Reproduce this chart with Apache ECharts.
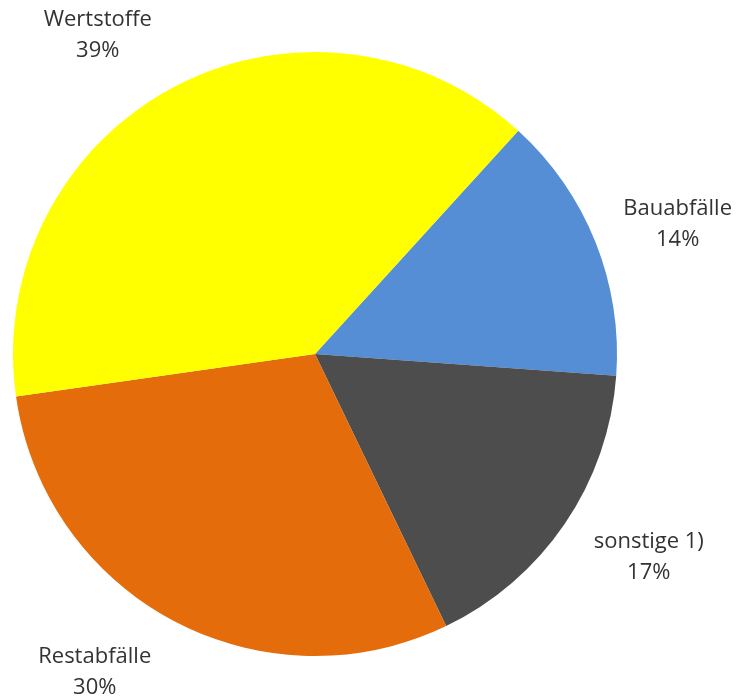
<!DOCTYPE html>
<html>
<head>
<meta charset="utf-8">
<script src="https://cdn.jsdelivr.net/npm/echarts@6/dist/echarts.min.js"></script>
<style>
html,body{margin:0;padding:0;background:#fff;}
#main{width:737px;height:700px;}
</style>
</head>
<body>
<div id="main"></div>
<script>
// Anteile (Reihenfolge im Uhrzeigersinn ab oben rechts)
var kategorien = ['Bauabfälle', 'sonstige 1)', 'Restabfälle', 'Wertstoffe'];
var anteile = [14.4, 16.7, 29.9, 39.0];
var farben = ['#558ED5', '#4D4D4D', '#E46C0A', '#FFFF00'];
// Verschiebung der Beschriftungen (px) wie in der Vorlage
var labelVersatz = [[7, 12], [17, -12], [-40, -20], [-38, 20]];

var myChart = echarts.init(document.getElementById('main'));

var daten = [];
var labelDaten = [];
for (var i = 0; i < kategorien.length; i++) {
	daten.push({name: kategorien[i], value: anteile[i], itemStyle: {color: farben[i]}});
	labelDaten.push({name: kategorien[i], value: anteile[i]});
}

var option = {
	backgroundColor: '#ffffff',
	animation: false,
	series: [
		{
			type: 'pie',
			center: [315, 354],
			radius: [0, 302],
			startAngle: 47.7,
			clockwise: true,
			silent: true,
			label: {show: false},
			labelLine: {show: false},
			data: daten
		},
		{
			// unsichtbarer Ring nur fuer die Beschriftungen
			type: 'pie',
			center: [315, 354],
			radius: [360, 400],
			startAngle: 47.7,
			clockwise: true,
			silent: true,
			itemStyle: {color: 'rgba(0,0,0,0)'},
			label: {
				show: true,
				position: 'inside',
				color: '#333333',
				fontFamily: 'Open Sans',
				fontSize: 22,
				lineHeight: 31,
				align: 'center',
				formatter: function(p){
					return p.name + '\n' + Math.round(p.percent) + '%';
				}
			},
			labelLine: {show: false},
			labelLayout: function(p){
				var v = labelVersatz[p.dataIndex];
				return {dx: v[0], dy: v[1]};
			},
			data: labelDaten
		}
	]
};

myChart.setOption(option, true);
</script>
</body>
</html>
